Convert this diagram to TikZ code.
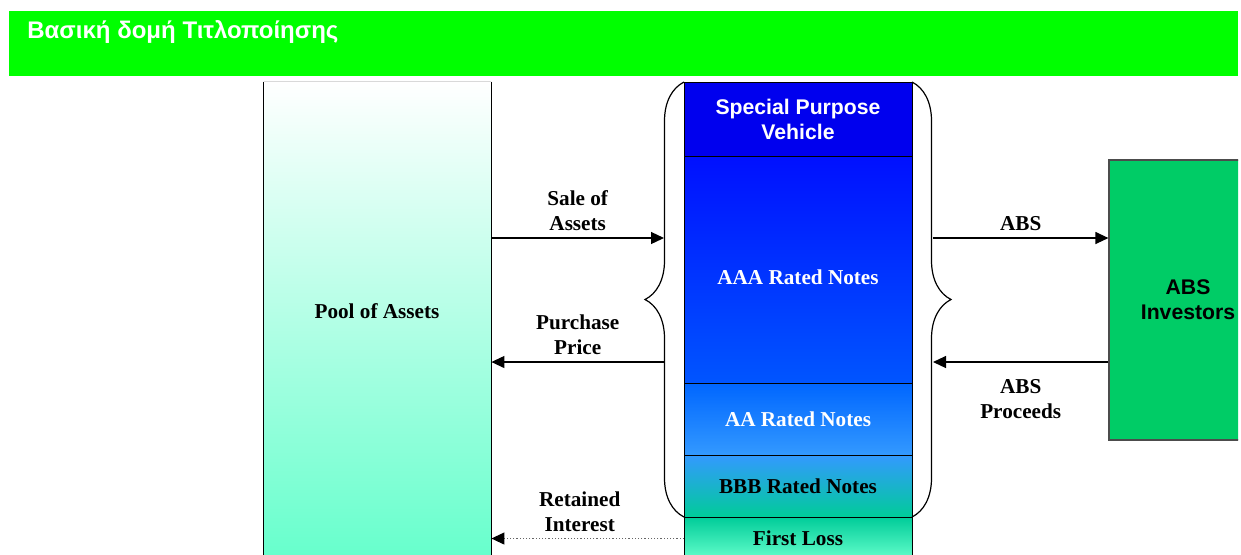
\documentclass[tikz,border=0pt]{standalone}
\usepackage{fontspec}
\setmainfont{Liberation Serif}
\setsansfont{Liberation Sans}
\usetikzlibrary{positioning,arrows.meta,decorations.pathreplacing}
\definecolor{hdrgreen}{RGB}{0,255,0}
\definecolor{invgreen}{RGB}{0,204,102}
\definecolor{aqua}{RGB}{102,255,204}
\definecolor{spvblue}{RGB}{0,0,238}
\definecolor{aaatop}{RGB}{0,16,255}
\definecolor{aaabot}{RGB}{0,85,255}
\definecolor{aatop}{RGB}{0,102,255}
\definecolor{aabot}{RGB}{51,153,255}
\definecolor{bbbbot}{RGB}{0,204,153}

\begin{document}
\begin{tikzpicture}[x=0.5pt, y=-0.5pt,
    lbl/.style = {font=\bfseries\fontsize{10.6}{12.5}\selectfont, align=center},
    sans/.style = {font=\sffamily\bfseries\fontsize{10.6}{12.5}\selectfont, align=center},
    tranche/.style = {draw, line width=0.5pt, minimum width=114pt, inner sep=0pt, outer sep=0pt},
    flow/.style = {-{Triangle[length=6.5pt,width=6pt,color=black]}, line width=0.6pt},
    brc/.style = {decorate, decoration={brace, amplitude=19.5pt, aspect=0.5}, line width=0.6pt}]
    \useasboundingbox (0,0) rectangle (1241,554);
    \clip (0,0) rectangle (1238,554);
    \def\cx{798}
    % header
    \node(hdr) [fill=hdrgreen, minimum width=614.5pt, minimum height=32.5pt, inner sep=0pt] at (623.5,43.5) {};
    \node(title) [anchor=base west, text=white, inner sep=0pt,
        font=\sffamily\bfseries\fontsize{12}{14}\selectfont] at (27,38) {Βασική δομή Τιτλοποίησης};
    % pool of assets
    \node(pool) [top color=white, bottom color=aqua, minimum width=113.5pt, minimum height=239pt, inner sep=0pt] at (377.5,321) {};
    \draw[line width=0.6pt] (pool.north west) -- (pool.south west) (pool.north east) -- (pool.south east);
    \draw[black!15] (pool.north west) -- (pool.north east);
    \node(poollbl) [lbl] at (377,311) {Pool of Assets};
    % tranches
    \node(spv) [tranche, fill=spvblue, minimum height=37pt, sans, text=white] at (\cx,119) {Special Purpose\\Vehicle};
    \node(aaa) [tranche, top color=aaatop, bottom color=aaabot, minimum height=113.5pt, below=0pt of spv, lbl, text=white,
        text height=14.6pt, text depth=0pt] {AAA Rated Notes};
    \node(aa) [tranche, top color=aatop, bottom color=aabot, minimum height=36pt, below=0pt of aaa, lbl, text=white] {AA Rated Notes};
    \node(bbb) [tranche, top color=aabot, bottom color=bbbbot, minimum height=31pt, below=0pt of aa, lbl] {BBB Rated Notes};
    \node(fl) [tranche, top color=bbbbot, bottom color=aqua, minimum height=21.5pt, below=0pt of bbb, lbl] {First Loss};
    % investors
    \node(inv) [fill=invgreen, draw=black!70, line width=0.6pt, minimum width=79pt, minimum height=140pt, sans] at (1188,300) {ABS\\Investors};
    % braces
    \draw[brc] (bbb.south west) -- (spv.north west);
    \draw[brc] (spv.north east) -- (bbb.south east);
    % flows
    \coordinate (salept) at (664,238);
    \coordinate (buypt) at (664,362);
    \coordinate (abspt) at (933,238);
    \coordinate (procpt) at (933,362);
    \draw[flow] (pool.east |- salept) -- node[lbl, above] {Sale of\\Assets} (salept);
    \draw[flow] (buypt) -- node[lbl, above] {Purchase\\Price} (pool.east |- buypt);
    \draw[flow] (abspt) -- node[lbl, above] {ABS} (inv.west |- abspt);
    \draw[flow] (inv.west |- procpt) -- node[lbl, below=5pt] {ABS\\Proceeds} (procpt);
    \draw[flow, densely dotted, black!60] (fl.west) -- node[lbl, above, xshift=-4pt, text=black] {Retained\\Interest} (pool.east |- fl.west);
\end{tikzpicture}
\end{document}
